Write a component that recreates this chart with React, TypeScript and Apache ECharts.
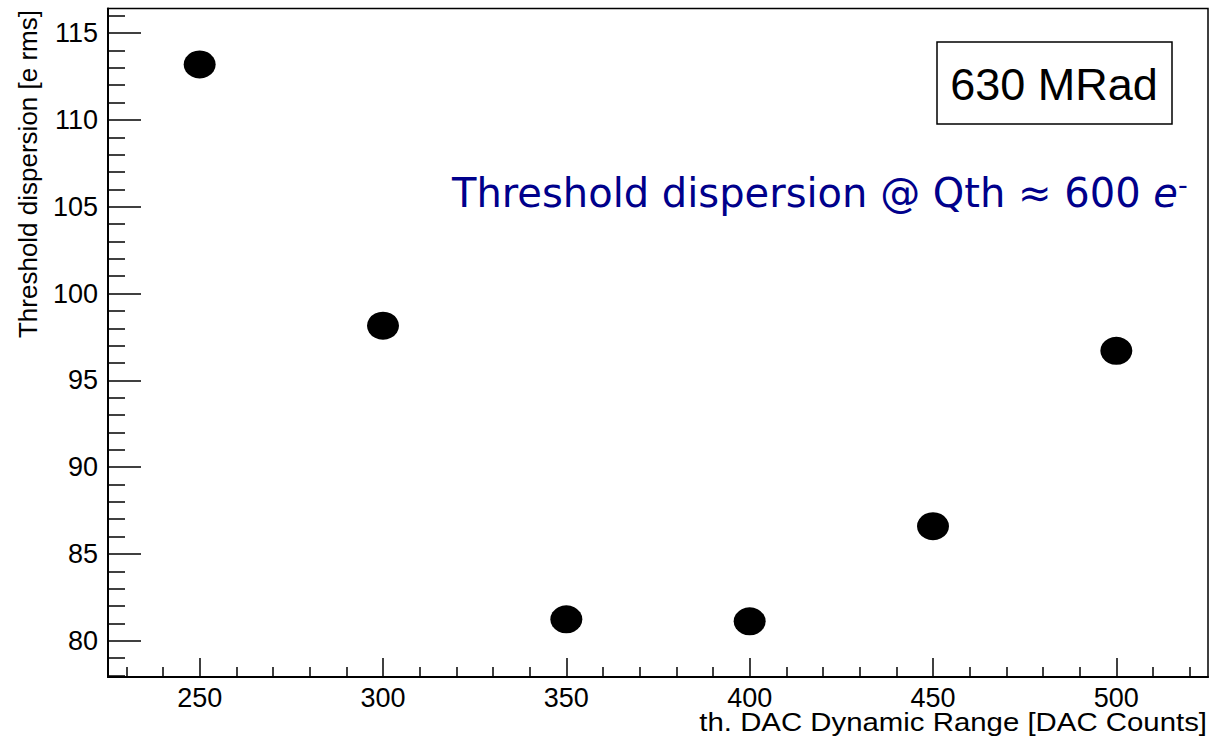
import React, { useEffect, useRef } from "react";
import * as echarts from "echarts";

// Measured threshold dispersion versus the threshold DAC dynamic range
const dacRange = [250, 300, 350, 400, 450, 500];
const dispersion = [113.2, 98.15, 81.23, 81.12, 86.6, 96.7];

// Axis ticks (ROOT-style frame)
const xMajorTicks = [250, 300, 350, 400, 450, 500];
const xMinorTicks = [230, 240, 260, 270, 280, 290, 310, 320, 330, 340, 360, 370, 380, 390, 410, 420, 430, 440, 460, 470, 480, 490, 510, 520];
const yMajorTicks = [80, 85, 90, 95, 100, 105, 110, 115];
const yMinorTicks = [78, 79, 81, 82, 83, 84, 86, 87, 88, 89, 91, 92, 93, 94, 96, 97, 98, 99, 101, 102, 103, 104, 106, 107, 108, 109, 111, 112, 113, 114, 116];

const xMin = 225;
const xMax = 525;
const yMin = 77.91;
const yMax = 116.42;

const xTitle = "th. DAC Dynamic Range [DAC Counts]";
const yTitle = "Threshold dispersion [e rms]";
const doseLabel = "630 MRad";
const noteLabel = "Threshold dispersion @ Qth ≈ 600 ";

const FONT = "'Liberation Sans', Arial, Helvetica, sans-serif";

export default function App() {
  const ref = useRef<HTMLDivElement>(null);

  useEffect(() => {
    if (!ref.current) return;
    const chart = echarts.init(ref.current, null, { renderer: "svg" });

    const points = dacRange.map((x, i) => [x, dispersion[i]]);

    chart.setOption({
      animation: false,
      backgroundColor: "#ffffff",
      grid: {
        left: 108,
        top: 8.5,
        right: 2,
        bottom: 61,
        show: true,
        borderColor: "#000",
        borderWidth: 1.5,
        backgroundColor: "transparent",
      },
      xAxis: [
        {
          type: "value",
          min: xMin,
          max: xMax,
          axisLine: { show: true, onZero: false, lineStyle: { color: "#000", width: 2 } },
          axisTick: {
            show: true,
            inside: true,
            length: 19,
            customValues: xMajorTicks,
            lineStyle: { color: "#000", width: 1.5 },
          },
          axisLabel: {
            customValues: xMajorTicks,
            color: "#000",
            fontSize: 27,
            fontFamily: FONT,
            margin: 7,
          },
          splitLine: { show: false },
        },
        {
          type: "value",
          min: xMin,
          max: xMax,
          position: "bottom",
          axisLine: { show: false },
          axisTick: {
            show: true,
            inside: true,
            length: 10,
            customValues: xMinorTicks,
            lineStyle: { color: "#000", width: 1.5 },
          },
          axisLabel: { show: false },
          splitLine: { show: false },
        },
      ],
      yAxis: [
        {
          type: "value",
          min: yMin,
          max: yMax,
          axisLine: { show: true, onZero: false, lineStyle: { color: "#000", width: 2 } },
          axisTick: {
            show: true,
            inside: true,
            length: 33,
            customValues: yMajorTicks,
            lineStyle: { color: "#000", width: 1.5 },
          },
          axisLabel: {
            customValues: yMajorTicks,
            color: "#000",
            fontSize: 27,
            fontFamily: FONT,
            margin: 10,
          },
          splitLine: { show: false },
        },
        {
          type: "value",
          min: yMin,
          max: yMax,
          position: "left",
          axisLine: { show: false },
          axisTick: {
            show: true,
            inside: true,
            length: 17,
            customValues: yMinorTicks,
            lineStyle: { color: "#000", width: 1.5 },
          },
          axisLabel: { show: false },
          splitLine: { show: false },
        },
      ],
      series: [
        {
          type: "scatter",
          xAxisIndex: 0,
          yAxisIndex: 0,
          data: points,
          symbol: "circle",
          symbolSize: [32, 28],
          itemStyle: { color: "#000", opacity: 1 },
          z: 5,
        },
      ],
      graphic: [
        {
          type: "text",
          x: 1207,
          y: 722,
          scaleX: 1.13,
          originX: 0,
          originY: 0,
          style: {
            text: xTitle,
            fill: "#000",
            font: `26px ${FONT}`,
            align: "right",
            verticalAlign: "middle",
          },
        },
        {
          type: "text",
          x: 28,
          y: 10,
          rotation: Math.PI / 2,
          style: {
            text: yTitle,
            fill: "#000",
            font: `26px ${FONT}`,
            align: "right",
            verticalAlign: "middle",
          },
        },
        {
          type: "rect",
          shape: { x: 937, y: 42, width: 235, height: 82 },
          style: { fill: "#fff", stroke: "#000", lineWidth: 1.5 },
          z: 10,
        },
        {
          type: "text",
          x: 1054,
          y: 84,
          style: {
            text: doseLabel,
            fill: "#000",
            font: `45px ${FONT}`,
            align: "center",
            verticalAlign: "middle",
          },
          z: 11,
        },
        {
          type: "text",
          x: 452,
          y: 193,
          style: {
            text: noteLabel + "{e|e}{m|-}",
            fill: "#00008b",
            font: "40px 'DejaVu Sans', sans-serif",
            align: "left",
            verticalAlign: "middle",
            rich: {
              e: { fontStyle: "italic", fontSize: 40, fontFamily: "DejaVu Sans", fill: "#00008b" },
              m: {
                fontSize: 27,
                fontFamily: "DejaVu Sans",
                fill: "#00008b",
                verticalAlign: "top",
                padding: [0, 0, 18, 0],
              },
            },
          },
          z: 11,
        },
      ],
    });

    return () => chart.dispose();
  }, []);

  return (
    <div
      ref={ref}
      style={{ position: "absolute", left: 0, top: 0, width: 1210, height: 738 }}
    />
  );
}
